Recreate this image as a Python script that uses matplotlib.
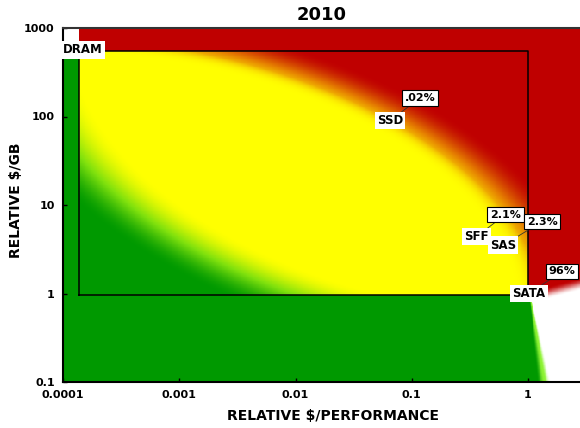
# plot.py
# 2010 storage tiers: relative $/performance vs relative $/GB (log-log),
# coloured background zones, DRAM-to-SATA box and share call-outs.

import numpy as np
import matplotlib
matplotlib.use("Agg")
import matplotlib.pyplot as plt


# Device label positions (relative $/performance, relative $/GB)
DEVICES = ["DRAM", "SSD", "SFF", "SAS", "SATA"]
DEVICE_PERF = [0.000100, 0.065, 0.36, 0.61, 1.02]
DEVICE_GB = [565, 90, 4.4, 3.5, 1.0]

# Share call-outs
SHARES = ["", ".02%", "2.1%", "2.3%", "96%"]
SHARE_PERF = [None, 0.118, 0.64, 1.32, 1.97]
SHARE_GB = [None, 162, 7.8, 6.5, 1.78]

# Box from DRAM corner to SATA corner
BOX_PERF = [0.000137, 1.0]
BOX_GB = [0.95, 550]

X_TICKS = [0.0001, 0.001, 0.01, 0.1, 1]
X_TICK_LABELS = ["0.0001", "0.001", "0.01", "0.1", "1"]
Y_TICKS = [0.1, 1, 10, 100, 1000]
Y_TICK_LABELS = ["0.1", "1", "10", "100", "1000"]

X_LIM = (0.0001, 2.8)
Y_LIM = (0.1, 1000)

GREEN = np.array([0.0, 0.6, 0.0])
LIME = np.array([0.5, 0.88, 0.05])
YELLOW = np.array([1.0, 1.0, 0.0])
ORANGE = np.array([0.9, 0.5, 0.0])
RED = np.array([0.75, 0.0, 0.0])
WHITE = np.array([1.0, 1.0, 1.0])
LIGHT_GREEN = np.array([0.55, 0.95, 0.2])


def smoothstep(e0, e1, v):
    t = np.clip((v - e0) / (e1 - e0), 0, 1)
    return t * t * (3 - 2 * t)


def mix(c0, c1, w):
    return c0 * (1 - w[..., None]) + c1 * w[..., None]


def ramp(c0, c1, c2, w):
    """Three-stop blend: w=0 -> c0, 0.5 -> c1, 1 -> c2."""
    lo = mix(c0, c1, np.clip(w * 2, 0, 1))
    return mix(lo, c2, np.clip(w * 2 - 1, 0, 1))


def build_background():
    """RGB field in log space for the zone colouring."""
    lx_edges = np.linspace(np.log10(X_LIM[0]), np.log10(X_LIM[1]), 601)
    ly_edges = np.linspace(np.log10(Y_LIM[0]), np.log10(Y_LIM[1]), 451)
    lx = (lx_edges[:-1] + lx_edges[1:]) / 2
    ly = (ly_edges[:-1] + ly_edges[1:]) / 2
    LX, LY = np.meshgrid(lx, ly)

    lx0, lx1 = np.log10(BOX_PERF)
    ly0, ly1 = np.log10(BOX_GB)

    # position inside the box, 0..1 on both axes
    a = np.clip((LX - lx0) / (lx1 - lx0), 0, 1)
    b = np.clip((LY - ly0) / (ly1 - ly0), 0, 1)
    p = 1.8

    # red outside a rounded arc around the lower-left corner
    dr = ((a / 1.03) ** p + (b / 1.05) ** p) ** (1 / p)
    wr = smoothstep(0.93, 1.1, dr)
    # green outside a rounded arc around the upper-right corner
    dg = (((1 - a) / 1.06) ** p + ((1 - b) / 1.13) ** p) ** (1 / p)
    wg = smoothstep(0.95, 1.13, dg)

    rgb = ramp(YELLOW, LIME, GREEN, wg)
    rgb = mix(rgb, ramp(YELLOW, ORANGE, RED, wr), np.minimum(wr * 3, 1))

    left = LX < lx0
    right = LX > lx1
    top = LY > ly1
    bottom = LY < ly0

    rgb[bottom & ~right] = GREEN
    rgb[left & ~top] = GREEN
    rgb[top] = RED
    rgb[left & top] = WHITE
    rgb[right & ~bottom] = RED

    # lower-right corner: white blob, green fringe along x = 1
    on_right = LX > lx1
    ww = smoothstep(-0.04, 0.1, (ly0 - LY) + 0.35 * (LX - lx1))
    col = mix(RED, WHITE, ww)
    fw = 0.02 + 0.14 * np.clip((ly0 - LY) / (ly0 - np.log10(Y_LIM[0])), 0, 1)
    d = (LX - lx1) / fw
    g1 = 1 - smoothstep(0.5, 0.9, d)
    g2 = 1 - smoothstep(0.9, 1.3, d)
    fringe = mix(mix(WHITE, LIGHT_GREEN, g2), GREEN, g1)
    col = mix(col, fringe, g2 * bottom)
    rgb[on_right] = col[on_right]

    return 10 ** lx_edges, 10 ** ly_edges, np.clip(rgb, 0, 1)


def make_chart():
    fig = plt.figure(figsize=(5.8, 4.28), dpi=100)
    ax = fig.add_axes([63 / 580, 1 - 382 / 428, 1 - 63 / 580, (382 - 28) / 428])

    xe, ye, rgb = build_background()
    ax.pcolormesh(xe, ye, rgb, shading="flat", rasterized=True, zorder=0)

    ax.set_xscale("log")
    ax.set_yscale("log")
    ax.set_xlim(*X_LIM)
    ax.set_ylim(*Y_LIM)

    # DRAM -> SATA box
    bx = [BOX_PERF[0], BOX_PERF[1], BOX_PERF[1], BOX_PERF[0], BOX_PERF[0]]
    by = [BOX_GB[0], BOX_GB[0], BOX_GB[1], BOX_GB[1], BOX_GB[0]]
    ax.plot(bx, by, color="black", lw=1.1, zorder=2)

    # Share call-outs with leader lines
    for name, px, gy, share, sx, sy in zip(DEVICES, DEVICE_PERF, DEVICE_GB,
                                           SHARES, SHARE_PERF, SHARE_GB):
        if share:
            ax.annotate(share, xy=(px, gy), xytext=(sx, sy),
                        ha="center", va="center", fontsize=8, fontweight="bold",
                        bbox=dict(boxstyle="square,pad=0.25", fc="white",
                                  ec="black", lw=0.8),
                        arrowprops=dict(arrowstyle="-", lw=0.6, color="#333333",
                                        shrinkA=0, shrinkB=0),
                        zorder=4)

    for name, px, gy in zip(DEVICES, DEVICE_PERF, DEVICE_GB):
        ha = "left" if name == "DRAM" else "center"
        ax.text(px, gy, name, ha=ha, va="center", fontsize=8.5,
                fontweight="bold", zorder=5,
                bbox=dict(boxstyle="square,pad=0.2", fc="white", ec="none"))

    ax.set_xticks(X_TICKS, X_TICK_LABELS)
    ax.set_yticks(Y_TICKS, Y_TICK_LABELS)
    ax.minorticks_off()
    ax.tick_params(direction="in", length=3, width=1, top=False, right=False,
                   labelsize=8, pad=6)
    for lab in ax.get_xticklabels() + ax.get_yticklabels():
        lab.set_fontweight("bold")

    ax.spines["right"].set_visible(False)
    ax.spines["left"].set_linewidth(1.5)
    ax.spines["bottom"].set_linewidth(1.5)
    ax.spines["top"].set_linewidth(1.5)
    ax.spines["top"].set_color("#333333")

    ax.set_xlabel("RELATIVE $/PERFORMANCE", fontsize=10, fontweight="bold")
    ax.xaxis.set_label_coords(0.522, -0.077)
    ax.set_ylabel("RELATIVE $/GB", fontsize=10, fontweight="bold")
    ax.yaxis.set_label_coords(-0.077, 0.514)

    ax.set_title("2010", fontsize=13, fontweight="bold", pad=6)

    fig.savefig("out.png", dpi=100)
    plt.close(fig)


if __name__ == "__main__":
    make_chart()
